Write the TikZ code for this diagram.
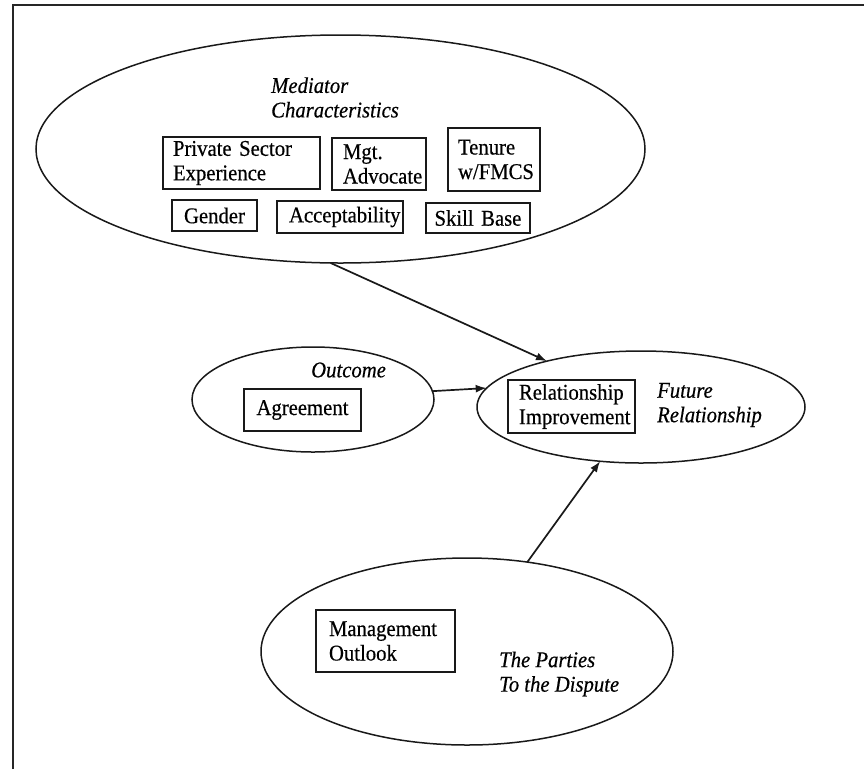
\documentclass[tikz,border=0pt]{standalone}
\usepackage{fontspec}
\setmainfont{Liberation Serif}[FakeBold=0.45, FakeStretch=0.92]
\usetikzlibrary{shapes.geometric,arrows.meta}
\hyphenpenalty=10000
\exhyphenpenalty=10000
\begin{document}
\begin{tikzpicture}[x=1pt,y=-1pt,
  ell/.style={draw=black!90, ellipse, inner sep=0pt, outer sep=0pt, line width=1.5pt},
  bx/.style={draw=black!90, rectangle, line width=1.7pt, inner ysep=0pt, outer sep=0pt,
    align=left, font=\fontsize{22.5}{24.5}\selectfont},
  lbl/.style={inner sep=0pt, align=left, anchor=west, font=\fontsize{22.5}{24.5}\selectfont\itshape},
  arr/.style={draw=black!90, -{Latex[length=11pt,width=8pt]}, line width=1.7pt}]
\useasboundingbox (0,0) rectangle (864,769);
\fill[white] (0,0) rectangle (864,769);
% frame
\draw[line width=1.6pt, black!85] (13,769) -- (13,5) -- (864,5);
% ellipses
\node[ell, minimum width=609pt, minimum height=228pt] (med) at (340.5,149) {};
\node[ell, minimum width=242pt, minimum height=105pt] (out) at (313,399.5) {};
\node[ell, minimum width=328pt, minimum height=112pt] (fut) at (641,407) {};
\node[ell, minimum width=412pt, minimum height=187pt] (bot) at (467,651.5) {};
% labels
\node[lbl] (medl) at (271,97.5) {Mediator\\Characteristics};
\node[lbl] (outl) at (311,370) {Outcome};
\node[lbl] (futl) at (657,405) {Future\\Relationship};
\node[lbl] (parl) at (499,674) {The Parties\\To the Dispute};
% boxes
\node[bx, minimum width=157pt, minimum height=52pt, inner xsep=10pt, text width=137pt] (psx) at (241.5,163) {Private Sector\\Experience};
\node[bx, minimum width=94pt, minimum height=52pt, inner xsep=11pt, text width=72pt] (mgt) at (379,164) {Mgt.\\Advocate};
\node[bx, minimum width=92pt, minimum height=63pt, inner xsep=10pt, text width=72pt] (ten) at (494,159.5) {Tenure\\w/FMCS};
\node[bx, align=center, minimum width=85pt, minimum height=31pt, inner xsep=10pt, text width=65pt] (gen) at (214.5,215.5) {Gender};
\node[bx, minimum width=126pt, minimum height=32pt, inner xsep=12pt, text width=102pt] (acc) at (340,217) {Acceptability};
\node[bx, align=center, minimum width=104pt, minimum height=30pt, inner xsep=8pt, text width=88pt] (skl) at (478,218) {Skill Base};
\node[bx, align=center, minimum width=117pt, minimum height=42pt, inner xsep=10pt, text width=97pt] (agr) at (302.5,410) {Agreement};
\node[bx, minimum width=127pt, minimum height=53pt, inner xsep=11pt, text width=105pt] (rel) at (571.5,406.5) {Relationship\\Improvement};
\node[bx, minimum width=139pt, minimum height=62pt, inner xsep=13pt, text width=113pt] (mgo) at (385.5,641) {Management\\Outlook};
% arrows
\draw[arr] (med.-95.8) -- (fut.154.7);
\draw[arr] (out.4.5) -- (fut.173.9);
\draw[arr] (bot.56.9) -- (fut.-127);
\end{tikzpicture}
\end{document}
